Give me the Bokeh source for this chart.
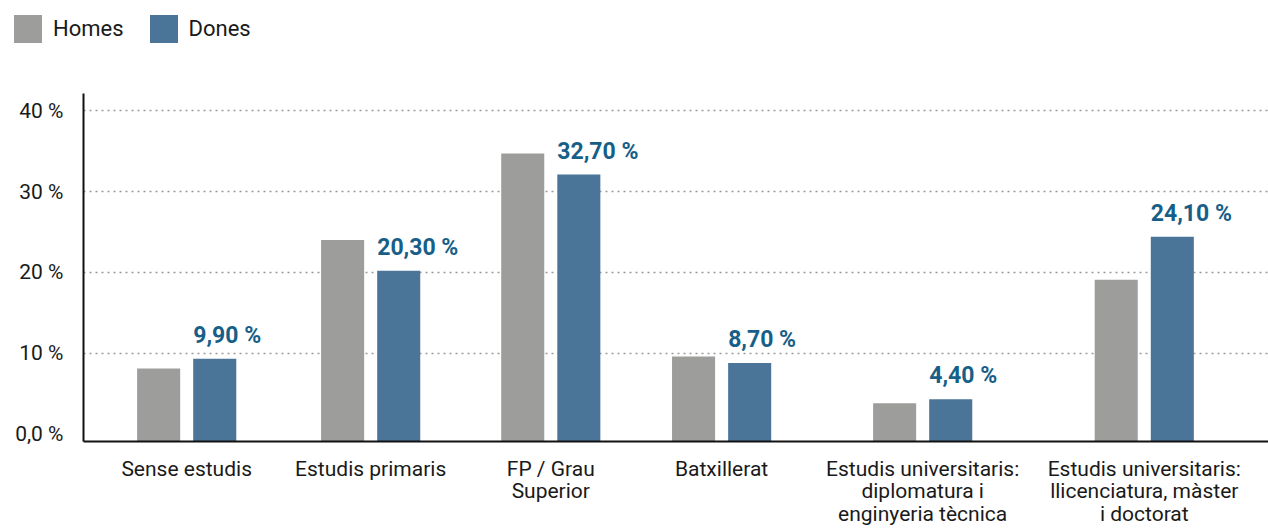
import numpy as np
from bokeh.plotting import figure
from bokeh.layouts import column
from bokeh.models import ColumnDataSource, Range1d, FixedTicker, Div
from bokeh.core.properties import value
from bokeh.embed import file_html
from bokeh.resources import INLINE

# ---------------- data ----------------
categories = [
    "Sense estudis",
    "Estudis primaris",
    "FP / Grau\nSuperior",
    "Batxillerat",
    "Estudis universitaris:\ndiplomatura i\nenginyeria tècnica",
    "Estudis universitaris:\nllicenciatura, màster\ni doctorat",
]
homes = [8.1, 24.0, 34.7, 9.6, 3.8, 19.1]
dones = [9.3, 20.2, 32.1, 8.8, 4.3, 24.4]
dones_labels = ["9,90 %", "20,30 %", "32,70 %", "8,70 %", "4,40 %", "24,10 %"]
series_names = ["Homes", "Dones"]
y_ticks = [0, 10, 20, 30, 40]
y_tick_labels = ["0,0 %", "10 %", "20 %", "30 %", "40 %"]

# ---------------- layout / style ----------------
slot_x = [0.5225, 1.454, 2.366, 3.231, 4.249, 5.371]   # category centres (slot units)
BAR_W = 0.218
DODGE = 0.142
GREY = "#9d9d9c"
BLUE = "#4a7599"
LABEL_BLUE = "#175f88"
FONT = "Roboto"
Y0 = -0.93
LEG_H = 56

xc = np.array(slot_x)
src = ColumnDataSource(dict(
    xh=xc - DODGE, xd=xc + DODGE, xl=xc + DODGE - BAR_W / 2,
    homes=homes, dones=dones, lab=dones_labels,
))

# ---- legend strip ----
def swatch(color, name, first):
    ml = 0 if first else 26
    return (f'<span style="display:inline-block;width:28px;height:28px;background:{color};'
            f'margin-left:{ml}px;margin-right:11px;vertical-align:middle"></span>'
            f'<span style="vertical-align:middle">{name}</span>')

legend_html = (f'<div style="font-family:{FONT};font-size:22px;color:#1a1a1a;'
               f'line-height:28px;white-space:nowrap;padding:14px 0 0 14px">'
               + swatch(GREY, series_names[0], True) + swatch(BLUE, series_names[1], False)
               + '</div>')
leg = Div(text=legend_html, width=1268, height=LEG_H, margin=0)

# ---- main chart ----
p = figure(width=1268, height=529 - LEG_H, output_backend="svg", toolbar_location=None,
           x_range=Range1d(0, 6), y_range=Range1d(Y0, 42.14),
           min_border_left=83, min_border_right=0, min_border_top=93 - LEG_H,
           min_border_bottom=88)
p.outline_line_color = None
p.background_fill_color = "white"

p.vbar(x="xh", top="homes", bottom=Y0, width=BAR_W, source=src,
       fill_color=GREY, line_color=None)
p.vbar(x="xd", top="dones", bottom=Y0, width=BAR_W, source=src,
       fill_color=BLUE, line_color=None)

p.text(x="xl", y="dones", text="lab", source=src, x_offset=0, y_offset=-10,
       text_align="left", text_baseline="bottom",
       text_font=value(FONT), text_font_style="bold", text_font_size="23px",
       text_color=LABEL_BLUE)

p.xaxis.ticker = FixedTicker(ticks=slot_x)
p.xaxis.major_label_overrides = {float(x): c for x, c in zip(slot_x, categories)}
p.yaxis.ticker = FixedTicker(ticks=y_ticks)
p.yaxis.major_label_overrides = {float(t): l for t, l in zip(y_ticks, y_tick_labels)}
for ax in (p.xaxis[0], p.yaxis[0]):
    ax.axis_line_width = 2
    ax.axis_line_color = "#111111"
    ax.major_tick_line_color = None
    ax.minor_tick_line_color = None
    ax.major_tick_out = 0
    ax.major_tick_in = 0
    ax.major_label_text_font = FONT
    ax.major_label_text_font_size = "21px"
    ax.major_label_text_color = "#1a1a1a"
p.xaxis.major_label_text_line_height = 0.95
p.yaxis.major_label_standoff = 20
p.xaxis.major_label_standoff = 15

p.xgrid.grid_line_color = None
p.ygrid.ticker = FixedTicker(ticks=y_ticks[1:])
p.ygrid.grid_line_color = "#9a9a9a"
p.ygrid.grid_line_width = 1.5
p.ygrid.grid_line_dash = "2 4"

layout = column(leg, p, spacing=0)
open("out.html", "w").write(file_html(layout, INLINE))
